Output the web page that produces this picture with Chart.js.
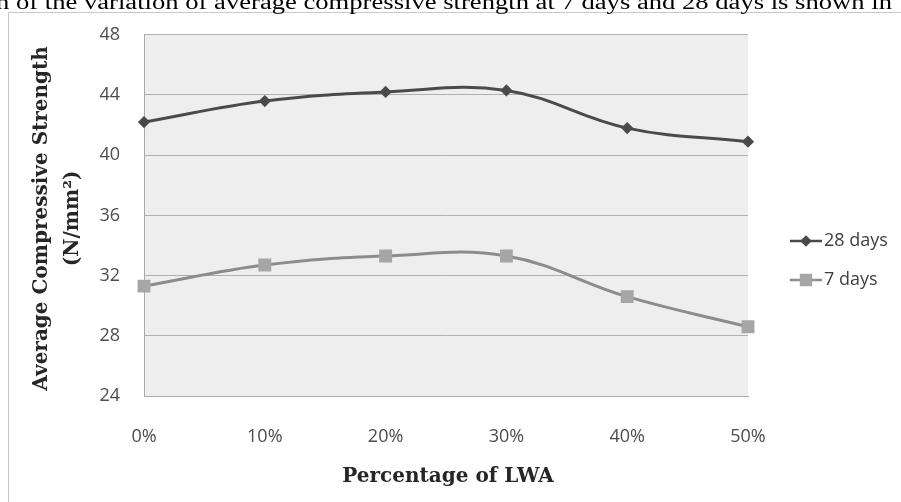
<!DOCTYPE html>
<html>
<head>
<meta charset="utf-8">
<script src="https://cdn.jsdelivr.net/npm/chart.js@4.4.1/dist/chart.umd.min.js"></script>
<style>
  html, body { margin: 0; padding: 0; background: #ffffff; }
  #wrap { position: relative; width: 901px; height: 502px; overflow: hidden; }
  canvas { display: block; }
</style>
</head>
<body>
<div id="wrap"><canvas id="c" width="901" height="502"></canvas></div>
<script>
// Percentage of lightweight aggregate replacing normal aggregate
const categories = ['0%', '10%', '20%', '30%', '40%', '50%'];
// Average compressive strength, N/mm²
const strength28 = [42.2, 43.6, 44.2, 44.3, 41.8, 40.9];
const strength7 = [31.3, 32.7, 33.3, 33.3, 30.6, 28.6];
const yTicks = [24, 28, 32, 36, 40, 44, 48];
const seriesNames = ['28 days', '7 days'];

const captionText = 'n of the variation of average compressive strength at 7 days and 28 days is shown in';
const yTitleLines = ['Average Compressive Strength', '(N/mm\u00B2)'];
const xTitle = 'Percentage of LWA';

const tickFont = '"Open Sans", "Liberation Sans", sans-serif';
const titleFont = '"DejaVu Serif", "Liberation Serif", serif';

// page furniture: caption line, frame, plot background, titles, legend
const decor = {
  id: 'decor',
  beforeDraw(chart) {
    const { ctx, chartArea: a } = chart;
    ctx.save();
    ctx.fillStyle = '#ffffff';
    ctx.fillRect(0, 0, chart.width, chart.height);
    // frame
    ctx.strokeStyle = '#c9c9c9';
    ctx.lineWidth = 1;
    ctx.strokeRect(8.5, 12.5, 1000, 1000);
    // plot background
    ctx.fillStyle = '#eeeeee';
    ctx.fillRect(a.left, a.top, a.right - a.left, a.bottom - a.top);
    ctx.restore();
  },
  afterDraw(chart) {
    const { ctx, chartArea: a } = chart;
    ctx.save();
    // caption text from the surrounding document
    ctx.font = '20px "Liberation Serif", "Times New Roman", serif';
    ctx.fillStyle = '#000000';
    ctx.textBaseline = 'alphabetic';
    const w = ctx.measureText(captionText).width;
    const left = -4, right = 892;
    ctx.translate(left, 9);
    ctx.scale((right - left) / w, 1);
    ctx.fillText(captionText, 0, 0);
    ctx.restore();

    ctx.save();
    ctx.fillStyle = '#262626';
    ctx.font = 'bold 20px ' + titleFont;
    ctx.textAlign = 'center';
    ctx.textBaseline = 'middle';
    // x axis title
    ctx.fillText(xTitle, (a.left + a.right) / 2 + 2, 477);
    // y axis title, two rotated lines
    const cy = (a.top + a.bottom) / 2 + 3;
    ctx.translate(42, cy);
    ctx.rotate(-Math.PI / 2);
    ctx.fillText(yTitleLines[0], 0, 0);
    ctx.fillText(yTitleLines[1], 0, 31);
    ctx.restore();

    // legend: line sample with marker, then the series name
    ctx.save();
    ctx.font = '18px ' + tickFont;
    ctx.textBaseline = 'middle';
    ctx.textAlign = 'left';
    const rows = [241, 280];
    chart.data.datasets.forEach((ds, i) => {
      const y = rows[i];
      ctx.strokeStyle = ds.borderColor;
      ctx.lineWidth = 2.5;
      ctx.beginPath();
      ctx.moveTo(790, y);
      ctx.lineTo(822, y);
      ctx.stroke();
      ctx.fillStyle = ds.pointBackgroundColor;
      ctx.strokeStyle = ds.pointBorderColor;
      Chart.helpers.drawPoint(ctx, {
        pointStyle: ds.pointStyle,
        radius: ds.pointRadius,
        borderWidth: 1,
        rotation: 0
      }, 806, y);
      ctx.fillStyle = '#404040';
      ctx.fillText(ds.label, 824, y);
    });
    ctx.restore();
  }
};

new Chart(document.getElementById('c'), {
  type: 'line',
  data: {
    labels: categories,
    datasets: [
      {
        label: seriesNames[0],
        data: strength28,
        borderColor: '#4a4a4a',
        borderWidth: 3,
        pointStyle: 'rectRot',
        pointRadius: 4,
        pointBackgroundColor: '#4a4a4a',
        pointBorderColor: '#4a4a4a',
        tension: 0.4,
        clip: false
      },
      {
        label: seriesNames[1],
        data: strength7,
        borderColor: '#8c8c8c',
        borderWidth: 3,
        pointStyle: 'rect',
        pointRadius: 7,
        pointBackgroundColor: '#a6a6a6',
        pointBorderColor: '#a6a6a6',
        tension: 0.4,
        clip: false
      }
    ]
  },
  options: {
    responsive: false,
    animation: false,
    events: [],
    layout: { padding: { left: 0, top: 31, right: 153, bottom: 0 } },
    plugins: {
      legend: { display: false },
      tooltip: { enabled: false }
    },
    scales: {
      x: {
        offset: false,
        grid: { display: false, drawTicks: false },
        border: { display: true, color: '#aaaaaa', width: 1 },
        ticks: { color: '#4d4d4d', font: { family: tickFont, size: 18 }, padding: 30, maxRotation: 0 },
        afterFit(s) { s.height = 106; }
      },
      y: {
        min: yTicks[0],
        max: yTicks[yTicks.length - 1],
        afterBuildTicks(s) { s.ticks = yTicks.map(v => ({ value: v })); },
        grid: { color: '#b0b0b0', lineWidth: 1, drawTicks: false },
        border: { display: true, color: '#aaaaaa', width: 1 },
        ticks: { color: '#4d4d4d', font: { family: tickFont, size: 18 }, padding: 24 },
        afterFit(s) { s.width = 144; }
      }
    }
  },
  plugins: [decor]
});
</script>
</body>
</html>
